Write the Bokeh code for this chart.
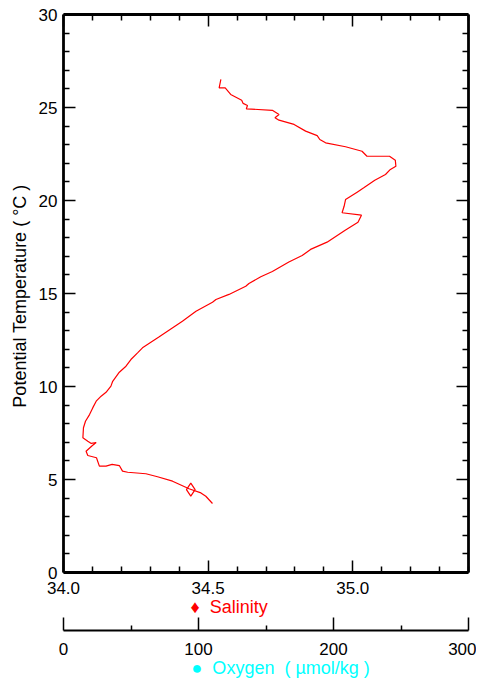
from bokeh.plotting import figure
from bokeh.models import (Range1d, LinearAxis, FixedTicker, Title,
                          PrintfTickFormatter, CustomJSTickFormatter,
                          ColumnDataSource)
from bokeh.embed import file_html
from bokeh.resources import INLINE

# ---- data ----
salinity = [34.544, 34.538, 34.559, 34.578, 34.616, 34.621, 34.636, 34.632,
            34.722, 34.745, 34.731, 34.745, 34.797, 34.837, 34.877, 34.886,
            34.906, 34.975, 35.032, 35.049, 35.127, 35.147, 35.149, 35.130,
            35.113, 35.076, 35.038, 35.015, 34.975, 34.970, 34.963, 35.030,
            35.018, 34.975, 34.911, 34.854, 34.825, 34.779, 34.722, 34.682,
            34.641, 34.630, 34.572, 34.527, 34.515, 34.458, 34.411, 34.331,
            34.273, 34.256, 34.233, 34.216, 34.193, 34.170, 34.164, 34.147,
            34.130, 34.113, 34.101, 34.090, 34.076, 34.069, 34.067, 34.084,
            34.096, 34.113, 34.100, 34.078, 34.084, 34.114, 34.124, 34.147,
            34.168, 34.193, 34.204, 34.222, 34.285, 34.325, 34.377, 34.434,
            34.475, 34.492, 34.515]
temperature = [26.51, 26.06, 26.06, 25.70, 25.39, 25.22, 25.11, 24.93,
               24.85, 24.62, 24.45, 24.32, 24.09, 23.73, 23.49, 23.28,
               23.10, 22.89, 22.65, 22.38, 22.38, 22.17, 21.84, 21.67,
               21.40, 21.09, 20.68, 20.45, 20.05, 19.69, 19.34, 19.21,
               18.83, 18.41, 17.76, 17.37, 17.04, 16.69, 16.18, 15.90,
               15.54, 15.39, 14.95, 14.68, 14.53, 14.05, 13.51, 12.67,
               12.08, 11.81, 11.45, 11.09, 10.77, 10.28, 10.02, 9.69,
               9.48, 9.21, 8.85, 8.49, 8.13, 7.78, 7.24, 7.06,
               6.94, 6.99, 6.83, 6.52, 6.29, 6.17, 5.72, 5.72,
               5.81, 5.75, 5.45, 5.39, 5.31, 5.15, 4.91, 4.50,
               4.28, 4.10, 3.71]
marker_salinity = [34.440]
marker_temperature = [4.46]

sal_major_ticks = [34.0, 34.5, 35.0]
sal_minor_ticks = [34.1, 34.2, 34.3, 34.4, 34.6, 34.7, 34.8, 34.9,
                   35.1, 35.2, 35.3, 35.4]
temp_major_ticks = [0, 5, 10, 15, 20, 25, 30]
temp_minor_ticks = [1, 2, 3, 4, 6, 7, 8, 9, 11, 12, 13, 14, 16, 17, 18, 19,
                    21, 22, 23, 24, 26, 27, 28, 29]
oxy_major_ticks = [0, 100, 200, 300]
oxy_minor_ticks = [50, 150, 250]

y_label = "Potential Temperature  ( \u00b0C )"
salinity_label = "\u2666\u00a0 Salinity"
oxygen_label = "\u25cf\u00a0 Oxygen\u00a0 (\u00a0\u00b5mol/kg\u00a0)"

FONT = "Liberation Sans"

p = figure(width=476, height=680,
           x_range=Range1d(34.0, 35.4), y_range=Range1d(0, 30),
           output_backend="svg", toolbar_location=None,
           x_axis_location=None, y_axis_location=None,
           min_border_left=63, min_border_right=8,
           min_border_top=14, min_border_bottom=108)
p.extra_x_ranges = {"oxy": Range1d(0, 300)}
p.outline_line_color = None
p.background_fill_color = "white"
p.border_fill_color = "white"


def style(ax, labels=True, maj=12, mnr=6, lw=2.8, standoff=7):
    ax.axis_line_width = lw
    ax.axis_line_color = "black"
    ax.major_tick_in = maj
    ax.major_tick_out = 0
    ax.minor_tick_in = mnr
    ax.minor_tick_out = 0
    ax.major_tick_line_width = 1.5
    ax.minor_tick_line_width = 1.5
    ax.major_tick_line_color = "black"
    ax.minor_tick_line_color = "black"
    ax.major_label_text_font = FONT
    ax.major_label_text_color = "black"
    ax.major_label_text_font_size = "17px"
    if labels:
        ax.major_label_standoff = standoff
    else:
        ax.formatter = CustomJSTickFormatter(code="return ''")
        ax.major_label_standoff = 0


sal_ticker = FixedTicker(ticks=sal_major_ticks, minor_ticks=sal_minor_ticks)
temp_ticker = FixedTicker(ticks=temp_major_ticks, minor_ticks=temp_minor_ticks)

# bottom salinity axis
ax_b = LinearAxis(ticker=sal_ticker, formatter=PrintfTickFormatter(format="%.1f"))
style(ax_b, standoff=9)
p.add_layout(ax_b, "below")

# salinity legend line
p.add_layout(Title(text=salinity_label, align="left", offset=127,
                   text_color="red", text_font=FONT, text_font_size="18px",
                   text_font_style="normal", standoff=0,
                   vertical_align="top"), "below")
# spacer before the oxygen axis
p.add_layout(Title(text="\u00a0", text_font_size="9px", standoff=0,
                   text_color="white"), "below")

# oxygen axis
ax_o = LinearAxis(x_range_name="oxy",
                  ticker=FixedTicker(ticks=oxy_major_ticks, minor_ticks=oxy_minor_ticks))
style(ax_o, maj=13, mnr=5, lw=2.2, standoff=12)
p.add_layout(ax_o, "below")

# oxygen legend line
p.add_layout(Title(text=oxygen_label, align="left", offset=128,
                   text_color="cyan", text_font=FONT, text_font_size="18px",
                   text_font_style="normal", standoff=0,
                   vertical_align="top"), "below")

# left temperature axis
ax_l = LinearAxis(ticker=temp_ticker)
style(ax_l, standoff=6)
ax_l.axis_label = y_label
ax_l.axis_label_text_font = FONT
ax_l.axis_label_text_font_style = "normal"
ax_l.axis_label_text_font_size = "18px"
ax_l.axis_label_text_color = "black"
ax_l.axis_label_standoff = 6
p.add_layout(ax_l, "left")

# top and right frame axes (ticks only)
ax_t = LinearAxis(ticker=sal_ticker)
style(ax_t, labels=False)
p.add_layout(ax_t, "above")
ax_r = LinearAxis(ticker=temp_ticker)
style(ax_r, labels=False)
p.add_layout(ax_r, "right")

p.grid.visible = False

src = ColumnDataSource(dict(s=salinity, t=temperature))
p.line("s", "t", source=src, line_color="red", line_width=1.2)
p.scatter(marker_salinity, marker_temperature, marker="diamond", size=13,
          line_color="red", fill_color=None, line_width=1.2)

open("out.html", "w").write(file_html(p, INLINE))
